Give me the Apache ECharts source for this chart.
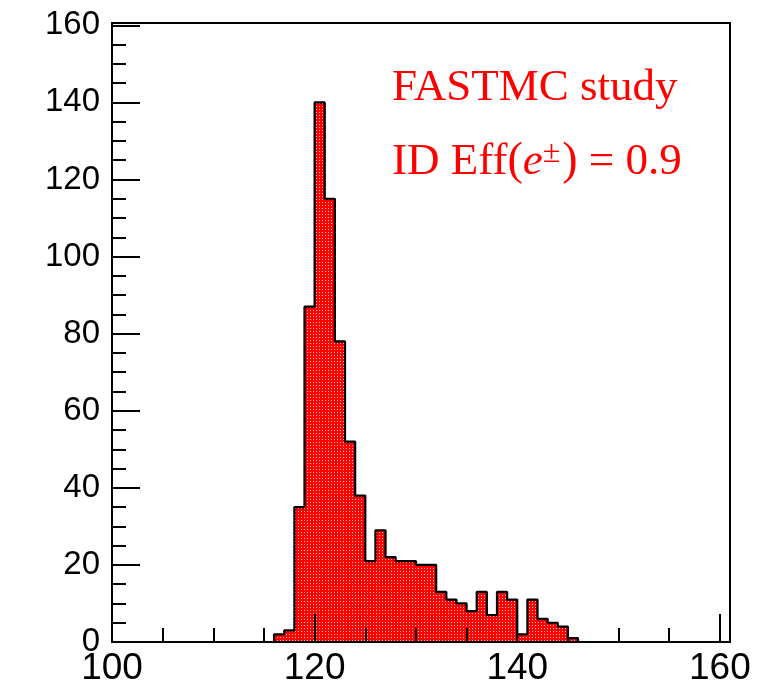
<!DOCTYPE html>
<html>
<head>
<meta charset="utf-8">
<script src="https://cdn.jsdelivr.net/npm/echarts@6/dist/echarts.min.js"></script>
<style>
html,body{margin:0;padding:0;background:#fff;}
#chart{width:763px;height:691px;}
</style>
</head>
<body>
<div id="chart"></div>
<script>
// ---- data (bin lower edges, width 1) ----
const binLow = [116,117,118,119,120,121,122,123,124,125,126,127,128,129,130,131,132,133,134,135,136,137,138,139,140,141,142,143,144,145];
const counts = [2,3,35,87,140,115,78,52,38,21,29,22,21,21,20,20,13,11,10,8,13,7,13,11,2,11,6,5,4,1];
const xTickLabels = [100,120,140,160];
const yTickLabels = [0,20,40,60,80,100,120,140,160];
const binWidth = 1;

// step outline points built from the histogram arrays
const stepData = [[binLow[0], 0]];
binLow.forEach((x, i) => stepData.push([x, counts[i]]));
stepData.push([binLow[binLow.length - 1] + binWidth, 0]);

// dotted red fill pattern
const pc = document.createElement('canvas');
pc.width = 3; pc.height = 3;
const g = pc.getContext('2d');
g.fillStyle = '#ff0000'; g.fillRect(0, 0, 3, 3);
g.fillStyle = '#ffc4c4'; g.fillRect(1, 1, 1, 1);

const chart = echarts.init(document.getElementById('chart'), null, {renderer: 'canvas'});

function axisPair(kind) {
  const isX = kind === 'x';
  const min = isX ? 100 : 0;
  const max = isX ? 161 : 160.6;
  const labels = isX ? xTickLabels : yTickLabels;
  return [
    {
      type: 'value', min: min, max: max, interval: 5,
      position: isX ? 'bottom' : 'left', z: 5,
      axisLine: {show: true, onZero: false, lineStyle: {color: '#000', width: 2}},
      axisTick: {show: true, inside: true, length: 14, lineStyle: {color: '#000', width: 2}},
      axisLabel: {show: false},
      splitLine: {show: false}
    },
    {
      type: 'value', min: min, max: max, interval: 20,
      position: isX ? 'bottom' : 'left', z: 5,
      axisLine: {show: false, onZero: false},
      axisTick: {show: true, inside: true, length: 28, lineStyle: {color: '#000', width: 2}},
      axisLabel: {
        show: true, showMaxLabel: false, margin: isX ? 8 : 12,
        fontFamily: 'Liberation Sans', fontSize: isX ? 37 : 33, color: '#000',
        formatter: v => labels.indexOf(v) >= 0 ? String(v) : ''
      },
      splitLine: {show: false}
    }
  ];
}

chart.setOption({
  animation: false,
  backgroundColor: '#fff',
  grid: {
    left: 112, right: 33, top: 23, bottom: 49,
    show: true, borderColor: '#000', borderWidth: 2,
    outerBoundsMode: 'none', containLabel: false
  },
  xAxis: axisPair('x'),
  yAxis: axisPair('y'),
  series: [{
    type: 'line',
    xAxisIndex: 0, yAxisIndex: 0,
    step: 'end',
    data: stepData,
    showSymbol: false,
    symbol: 'none',
    z: 2,
    lineStyle: {color: '#000', width: 2.2},
    areaStyle: {color: {image: pc, repeat: 'repeat'}, opacity: 1}
  }],
  graphic: [
    {
      type: 'text', x: 392, y: 66, z: 10,
      style: {
        text: '{a|FASTMC study}',
        textVerticalAlign: 'top',
        fill: '#ff0000',
        rich: {a: {fontFamily: 'Liberation Serif', fontSize: 45, color: '#ff0000'}}
      }
    },
    {
      type: 'text', x: 392, y: 138, z: 10,
      style: {
        text: '{a|ID Eff}{p|(}{e|e}{s|\u00b1}{p|)}{a| = 0.9}',
        textVerticalAlign: 'top',
        fill: '#ff0000',
        rich: {
          a: {fontFamily: 'Liberation Serif', fontSize: 45, lineHeight: 48, color: '#ff0000'},
          p: {fontFamily: 'Liberation Serif', fontSize: 46, lineHeight: 48, color: '#ff0000'},
          e: {fontFamily: 'Liberation Serif', fontSize: 45, lineHeight: 48, fontStyle: 'italic', color: '#ff0000'},
          s: {fontFamily: 'Liberation Serif', fontSize: 32, lineHeight: 22, color: '#ff0000', verticalAlign: 'top', padding: [0, 2, 0, 0]}
        }
      }
    }
  ]
});
</script>
</body>
</html>
